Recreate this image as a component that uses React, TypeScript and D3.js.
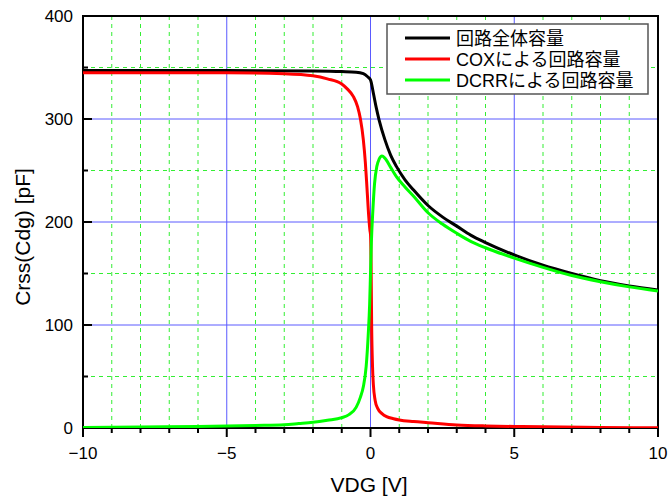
import React from "react";
import * as d3 from "d3";

// VDG sweep points and capacitance values [pF] for each curve
const totalV = [-10, -5, -2, -1, -0.5, -0.25, -0.1, 0, 0.1, 0.2, 0.3, 0.5, 0.7, 0.9, 1.2, 1.5, 2, 2.5, 3, 3.5, 4, 5, 6, 7, 8, 9, 10];
const totalC = [347, 347, 346.5, 346, 345.5, 344, 341, 338, 325, 311, 299, 280, 265, 254, 241, 231, 216, 205, 196, 187, 180, 168, 158, 150, 143, 138, 134];

const coxV = [-10, -5, -3, -2, -1.5, -1, -0.8, -0.6, -0.45, -0.35, -0.25, -0.18, -0.12, -0.06, -0.02, 0, 0.02, 0.04, 0.07, 0.1, 0.16, 0.25, 0.4, 0.56, 0.8, 1, 1.5, 2, 3, 4, 5, 6, 8, 10];
const coxC = [345, 345, 344, 342, 339, 334, 329, 322, 312, 300, 280, 258, 232, 205, 192, 188, 160, 100, 60, 42, 27, 19, 14, 11, 9, 7.8, 6.3, 5.2, 3, 2, 1.5, 1.2, 0.6, 0.2];

const dcrrV = [-10, -8, -6, -4, -3, -2.5, -2, -1.5, -1, -0.75, -0.5, -0.35, -0.25, -0.15, -0.08, -0.03, 0, 0.03, 0.08, 0.14, 0.22, 0.3, 0.4, 0.5, 0.7, 0.9, 1.2, 1.5, 2, 2.5, 3, 3.5, 4, 5, 6, 7, 8, 9, 10];
const dcrrC = [0.5, 1, 1.5, 2.5, 3.2, 4.3, 5.5, 7.5, 10, 13, 20, 30, 40, 60, 90, 120, 150, 180, 210, 237, 254, 261, 264, 262, 253, 244, 234, 225, 209, 198, 189, 181, 175, 165, 156, 148, 142, 137, 133];

const seriesNames = ["回路全体容量", "COXによる回路容量", "DCRRによる回路容量"];
const seriesColors = ["#000000", "#ff0000", "#00ff00"];

const xMajor = [-10, -5, 0, 5, 10];
const xMinor = [-9, -8, -7, -6, -4, -3, -2, -1, 1, 2, 3, 4, 6, 7, 8, 9];
const yMajor = [0, 100, 200, 300, 400];
const yMinor = [50, 150, 250, 350];

const latin = "'Liberation Sans', Arial, 'Noto Sans CJK JP', sans-serif";

export default function App() {
  const W = 669;
  const H = 499;
  const L = 83, R = 658, T = 16, B = 428;

  const x = d3.scaleLinear().domain([-10, 10]).range([L, R]);
  const y = d3.scaleLinear().domain([0, 400]).range([B, T]);

  const line = d3
    .line<[number, number]>()
    .x((d) => x(d[0]))
    .y((d) => y(d[1]))
    .curve(d3.curveMonotoneX);

  const zip = (a: number[], b: number[]) => a.map((v, i) => [v, b[i]] as [number, number]);
  const paths = [zip(totalV, totalC), zip(coxV, coxC), zip(dcrrV, dcrrC)];

  const gridBlue = "#5a5aff";
  const gridGreen = "#33ee33";

  return (
    <svg width={W} height={H} style={{ position: "absolute", left: 0, top: 0 }}>
      <rect x={0} y={0} width={W} height={H} fill="#fff" />
      <defs>
        <clipPath id="plot">
          <rect x={L} y={T} width={R - L} height={B - T} />
        </clipPath>
      </defs>

      {/* minor grid */}
      {xMinor.map((v) => (
        <line key={"gx" + v} x1={x(v)} x2={x(v)} y1={T} y2={B} stroke={gridGreen} strokeWidth={1} strokeDasharray="4,4" />
      ))}
      {yMinor.map((v) => (
        <line key={"gy" + v} x1={L} x2={R} y1={y(v)} y2={y(v)} stroke={gridGreen} strokeWidth={1} strokeDasharray="4,4" />
      ))}
      {/* major grid */}
      {xMajor.slice(1, -1).map((v) => (
        <line key={"bx" + v} x1={x(v)} x2={x(v)} y1={T} y2={B} stroke={gridBlue} strokeWidth={1} />
      ))}
      {yMajor.slice(1, -1).map((v) => (
        <line key={"by" + v} x1={L} x2={R} y1={y(v)} y2={y(v)} stroke={gridBlue} strokeWidth={1} />
      ))}

      {/* frame */}
      <rect x={L} y={T} width={R - L} height={B - T} fill="none" stroke="#000" strokeWidth={2} />

      {/* y ticks (inward) */}
      {yMajor.map((v) => (
        <line key={"ty" + v} x1={L} x2={L + 9} y1={y(v)} y2={y(v)} stroke="#000" strokeWidth={2} />
      ))}
      {yMinor.map((v) => (
        <line key={"tym" + v} x1={L} x2={L + 5} y1={y(v)} y2={y(v)} stroke="#000" strokeWidth={2} />
      ))}
      {/* x ticks (outward) */}
      {xMajor.map((v) => (
        <line key={"tx" + v} x1={x(v)} x2={x(v)} y1={B} y2={B + 9} stroke="#000" strokeWidth={2} />
      ))}
      {xMinor.map((v) => (
        <line key={"txm" + v} x1={x(v)} x2={x(v)} y1={B} y2={B + 5} stroke="#000" strokeWidth={2} />
      ))}

      {/* curves */}
      <g clipPath="url(#plot)">
        {paths.map((p, i) => (
          <path key={i} d={line(p) || ""} fill="none" stroke={seriesColors[i]} strokeWidth={3} strokeLinejoin="round" />
        ))}
      </g>

      {/* tick labels */}
      {yMajor.map((v) => (
        <text key={"ly" + v} x={L - 10} y={y(v) + 6} textAnchor="end" fontFamily={latin} fontSize={17} fill="#000">
          {v}
        </text>
      ))}
      {xMajor.map((v) => (
        <text key={"lx" + v} x={x(v)} y={459} textAnchor="middle" fontFamily={latin} fontSize={17} fill="#000">
          {v < 0 ? "\u2212" + Math.abs(v) : v}
        </text>
      ))}

      {/* axis titles */}
      <text x={369} y={492} textAnchor="middle" fontFamily={latin} fontSize={21} fill="#000">
        VDG [V]
      </text>
      <text
        transform={`translate(30,${237}) rotate(-90)`}
        textAnchor="middle"
        fontFamily={latin}
        fontSize={21}
        fill="#000"
      >
        Crss(Cdg) [pF]
      </text>

      {/* legend */}
      <g>
        <rect x={387} y={24} width={261} height={70} fill="#fff" stroke="#555" strokeWidth={1.5} />
        {seriesNames.map((n, i) => (
          <g key={n}>
            <line x1={405} x2={450} y1={38 + i * 21} y2={38 + i * 21} stroke={seriesColors[i]} strokeWidth={3} />
            <text x={456} y={38 + i * 21 + 6.5} fontFamily={latin} fontSize={18} fill="#000">
              {n}
            </text>
          </g>
        ))}
      </g>
    </svg>
  );
}
